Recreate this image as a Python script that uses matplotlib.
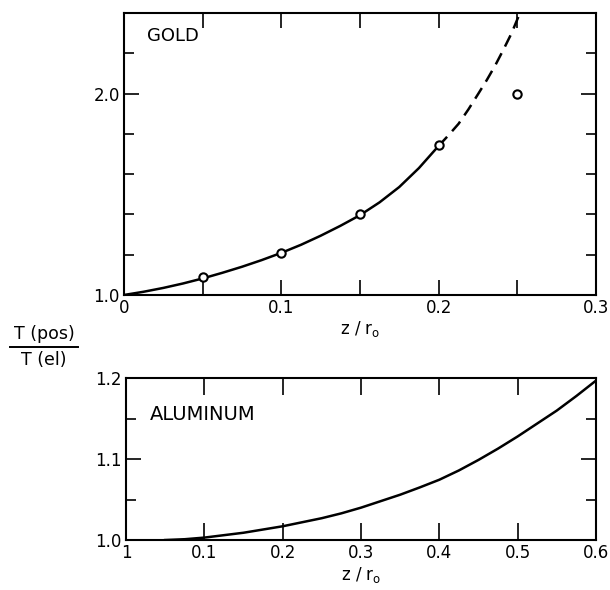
import numpy as np
import matplotlib
matplotlib.use("Agg")
import matplotlib.pyplot as plt
from matplotlib.lines import Line2D
from matplotlib.ticker import FixedLocator

# gold: measured points and curve (solid, then dashed extension)
gold_pts_x = [0.05, 0.10, 0.15, 0.20, 0.25]
gold_pts_y = [1.088, 1.21, 1.404, 1.746, 1.998]
gold_solid_x = [0.0, 0.0125, 0.025, 0.0375, 0.05, 0.0625, 0.075, 0.0875, 0.10,
                0.1125, 0.125, 0.1375, 0.15, 0.1625, 0.175, 0.1875, 0.20]
gold_solid_y = [1.0, 1.016, 1.035, 1.057, 1.082, 1.110, 1.140, 1.173, 1.209,
                1.249, 1.294, 1.343, 1.396, 1.46, 1.536, 1.63, 1.74]
gold_dash_x = [0.20, 0.2063, 0.2127, 0.219, 0.2253, 0.2307, 0.236, 0.2412, 0.2464, 0.2517]
gold_dash_y = [1.74, 1.793, 1.85, 1.922, 2.0, 2.068, 2.14, 2.218, 2.30, 2.40]

# aluminum curve
al_x = [0.05, 0.075, 0.10, 0.125, 0.15, 0.175, 0.20, 0.225, 0.25, 0.275, 0.30, 0.325,
        0.35, 0.375, 0.40, 0.425, 0.45, 0.475, 0.50, 0.525, 0.55, 0.575, 0.60]
al_y = [1.0, 1.001, 1.003, 1.006, 1.009, 1.013, 1.017, 1.022, 1.027, 1.033, 1.040, 1.048,
        1.056, 1.065, 1.0745, 1.086, 1.099, 1.113, 1.128, 1.144, 1.160, 1.178, 1.197]

top_xticklabels = ["0", "0.1", "0.2", "0.3"]
bot_xticklabels = ["1", "0.1", "0.2", "0.3", "0.4", "0.5", "0.6"]

plt.rcParams['font.family'] = ['DejaVu Sans']
fig = plt.figure(figsize=(6.1, 5.9), dpi=100)

def style(ax):
  for s in ax.spines.values():
    s.set_linewidth(1.5)
  ax.tick_params(which='both', direction='in', top=True, right=True,
                 width=1.2, labelsize=12, pad=3)
  ax.tick_params(which='major', length=11)
  ax.tick_params(which='minor', length=7)

# --- gold ---
ax1 = fig.add_axes([0.203, 0.5, 0.774, 0.478])
ax1.plot(gold_solid_x, gold_solid_y, color='black', lw=1.8, solid_joinstyle='round')
ax1.plot(gold_dash_x, gold_dash_y, color='black', lw=1.8, dashes=(5, 3))
ax1.plot(gold_pts_x, gold_pts_y, 'o', mfc='white', mec='black', ms=6, mew=1.5)
ax1.set_xlim(0, 0.3)
ax1.set_ylim(1.0, 2.4)
ax1.xaxis.set_major_locator(FixedLocator([0, 0.1, 0.2, 0.3]))
ax1.xaxis.set_minor_locator(FixedLocator([0.05, 0.15, 0.25]))
ax1.set_xticklabels(top_xticklabels)
ax1.yaxis.set_major_locator(FixedLocator([1.0, 2.0]))
ax1.yaxis.set_minor_locator(FixedLocator([1.2, 1.4, 1.6, 1.8, 2.2]))
ax1.set_yticklabels(["1.0", "2.0"])
style(ax1)
ax1.tick_params(axis='x', which='minor', length=11)
ax1.set_xlabel("z / r$_\\mathregular{o}$", fontsize=12, labelpad=1)
ax1.text(0.05, 0.9, "GOLD", transform=ax1.transAxes, fontsize=13)

# --- aluminum ---
ax2 = fig.add_axes([0.2066, 0.0847, 0.7704, 0.2743])
ax2.plot(al_x, al_y, color='black', lw=1.8, solid_joinstyle='round')
ax2.set_xlim(0, 0.6)
ax2.set_ylim(1.0, 1.2)
ax2.set_xticks(np.arange(0, 0.61, 0.1))
ax2.set_xticklabels(bot_xticklabels)
ax2.yaxis.set_major_locator(FixedLocator([1.0, 1.1, 1.2]))
ax2.yaxis.set_minor_locator(FixedLocator([1.05, 1.15]))
ax2.set_yticklabels(["1.0", "1.1", "1.2"])
style(ax2)
ax2.tick_params(axis='x', which='major', length=12)
ax2.set_xlabel("z / r$_\\mathregular{o}$", fontsize=12, labelpad=2)
ax2.text(0.05, 0.74, "ALUMINUM", transform=ax2.transAxes, fontsize=14)

# y label as a fraction between the panels
fig.text(0.072, 1 - 334/590, "T (pos)", ha='center', va='center', fontsize=12.5)
fig.text(0.072, 1 - 360/590, "T (el)", ha='center', va='center', fontsize=12.5)
fig.add_artist(Line2D([10/610, 78/610], [1 - 347/590, 1 - 347/590],
                      color='black', lw=1.4, transform=fig.transFigure))

fig.savefig("out.png", dpi=100)
